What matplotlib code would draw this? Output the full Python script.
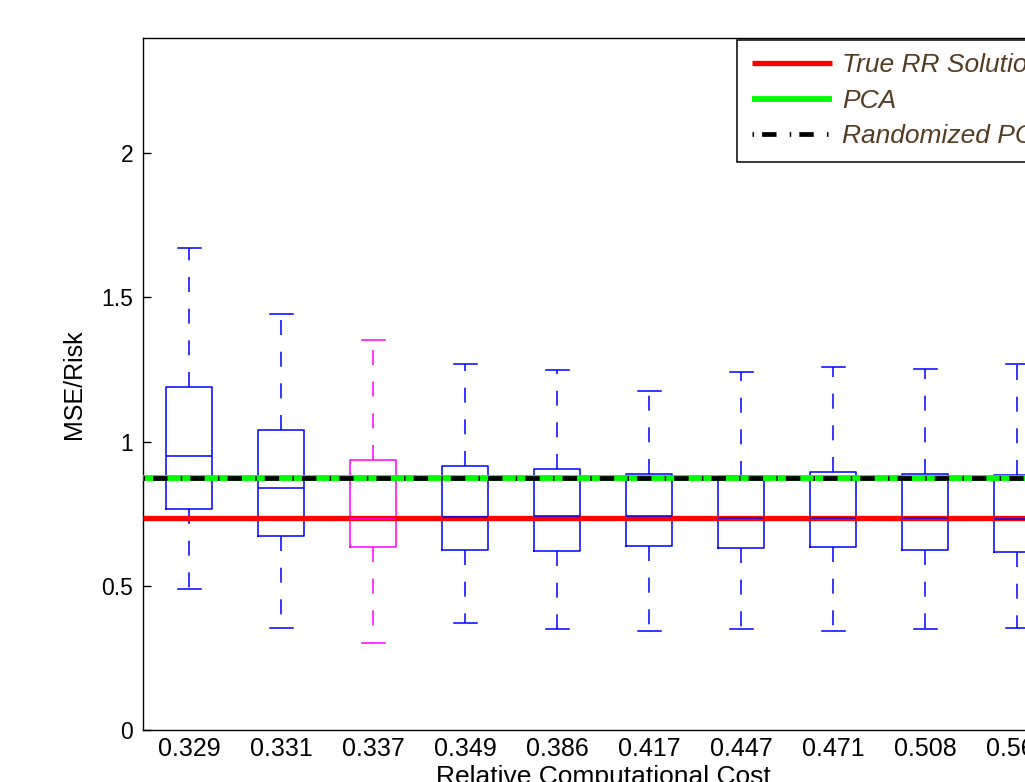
import matplotlib
import matplotlib.pyplot as plt
from matplotlib.lines import Line2D
from matplotlib.legend_handler import HandlerLine2D

matplotlib.use("Agg")

plt.rcParams["font.family"] = ["Liberation Sans", "DejaVu Sans"]
plt.rcParams["lines.scale_dashes"] = False

# Datos
cost_labels = ["0.329", "0.331", "0.337", "0.349", "0.386",
               "0.417", "0.447", "0.471", "0.508", "0.562"]
whisker_low = [0.490, 0.353, 0.302, 0.372, 0.352, 0.344, 0.352, 0.342, 0.350, 0.353]
q1 = [0.766, 0.674, 0.633, 0.623, 0.620, 0.637, 0.632, 0.634, 0.625, 0.619]
medians = [0.952, 0.841, 0.731, 0.737, 0.741, 0.743, 0.734, 0.736, 0.735, 0.732]
q3 = [1.189, 1.042, 0.935, 0.916, 0.906, 0.888, 0.882, 0.894, 0.888, 0.884]
whisker_high = [1.670, 1.444, 1.352, 1.270, 1.250, 1.175, 1.243, 1.258, 1.252, 1.271]
highlight_idx = 2

true_rr = 0.736
pca = 0.874
randomized_pca = 0.874

fig = plt.figure(figsize=(10.25, 7.82), dpi=100)
ax = fig.add_axes([143 / 1025, 52 / 782, 920 / 1025, 692 / 782])

stats = []
for i in range(len(cost_labels)):
    stats.append({
        "whislo": whisker_low[i],
        "q1": q1[i],
        "med": medians[i],
        "q3": q3[i],
        "whishi": whisker_high[i],
        "label": cost_labels[i],
    })

blue = "#0000ff"
bp = ax.bxp(
    stats,
    positions=range(1, len(stats) + 1),
    widths=0.5,
    capwidths=0.25,
    showfliers=False,
    boxprops=dict(color=blue, linewidth=1.1),
    medianprops=dict(color=blue, linewidth=1.1),
    whiskerprops=dict(color=blue, linewidth=1.1, linestyle=(0, (10.8, 12.0))),
    capprops=dict(color=blue, linewidth=1.1),
)

# Caja resaltada en magenta
mag = "#ff00ff"
bp["boxes"][highlight_idx].set_color(mag)
bp["medians"][highlight_idx].set_color(mag)
for k in (2 * highlight_idx, 2 * highlight_idx + 1):
    bp["whiskers"][k].set_color(mag)
    bp["caps"][k].set_color(mag)

# Líneas de referencia
ax.axhline(true_rr, color="#ff0000", linewidth=3.8, label="True RR Solution",
           zorder=5, solid_capstyle="butt")
ax.axhline(pca, color="#00ff00", linewidth=4.2, label="PCA", zorder=5,
           solid_capstyle="butt")
ax.axhline(randomized_pca, color="black", linewidth=3.4,
           linestyle=(0, (1.1, 5.8, 10.4, 9.5)), label="Randomized PCA", zorder=6)
for m in bp["medians"]:
    m.set_zorder(7)

ax.set_xlim(0.5, len(stats) + 0.5)
ax.set_ylim(0, 2.4)
ax.set_yticks([0, 0.5, 1, 1.5, 2])
ax.set_yticklabels(["0", "0.5", "1", "1.5", "2"])
ax.tick_params(axis="y", direction="in", length=6, width=1, labelsize=16.5, pad=7,
               right=True)
ax.tick_params(axis="x", length=0, labelsize=18, pad=5)
for s in ax.spines.values():
    s.set_linewidth(1.0)

ax.set_ylabel("MSE/Risk", fontsize=18, labelpad=11)
ax.set_xlabel("Relative Computational Cost", fontsize=19, labelpad=3)

leg_fs = 19
leg = ax.legend(
    loc="upper left",
    bbox_to_anchor=(737 / 1025, 1 - 40 / 782),
    bbox_transform=fig.transFigure,
    borderaxespad=0,
    fancybox=False,
    framealpha=1,
    edgecolor="black",
    prop={"size": leg_fs, "style": "italic"},
    handlelength=3.11,
    handletextpad=0.38,
    labelspacing=0.44,
    borderpad=0.5,
    handler_map={Line2D: HandlerLine2D(xpad=0.08)},
)
leg.get_frame().set_linewidth(1.1)
for t in leg.get_texts():
    t.set_color("#543c22")
leg.set_zorder(10)

plt.savefig("out.png", dpi=100)
plt.close()
